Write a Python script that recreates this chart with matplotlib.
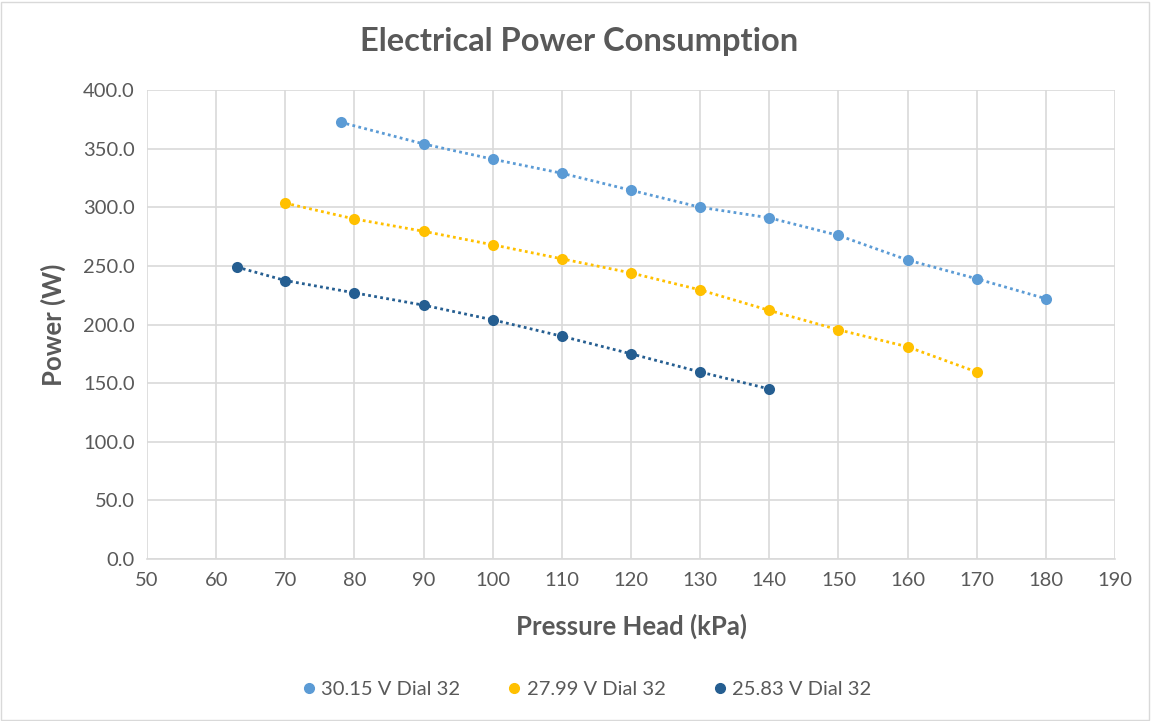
import matplotlib
matplotlib.use("Agg")
import matplotlib.pyplot as plt
from matplotlib.lines import Line2D
from matplotlib.patches import Rectangle

plt.rcParams['font.family'] = ['Lato', 'DejaVu Sans']

x_a = [78, 90, 100, 110, 120, 130, 140, 150, 160, 170, 180]
y_a = [372.5, 354, 341, 329, 314.5, 300, 291, 276, 255, 239, 222]
x_b = [70, 80, 90, 100, 110, 120, 130, 140, 150, 160, 170]
y_b = [303.5, 290, 279.5, 268, 256, 244, 229.5, 212, 195.5, 181, 159.5]
x_c = [63, 70, 80, 90, 100, 110, 120, 130, 140]
y_c = [249, 237.5, 227, 216.5, 204, 190, 175, 159.5, 145]
labels = ["30.15 V Dial 32", "27.99 V Dial 32", "25.83 V Dial 32"]
colors = ["#5B9BD5", "#FFC000", "#255E91"]

W, H = 1151, 721
fig = plt.figure(figsize=(W/100, H/100), dpi=100)
ax = fig.add_axes([147/W, 1-559/H, (1115-147)/W, (559-90)/H])

for xs, ys, c, lab in zip([x_a, x_b, x_c], [y_a, y_b, y_c], colors, labels):
    ax.plot(xs, ys, linestyle=(0, (1, 1.2)), color=c, linewidth=2.0,
            marker='o', markersize=8, markeredgewidth=0, label=lab, zorder=3)

ax.set_xlim(50, 190)
ax.set_ylim(0, 400)
ax.set_xticks(range(50, 191, 10))
ax.set_yticks(range(0, 401, 50))
ax.set_yticklabels([f"{v:.1f}" for v in range(0, 401, 50)])
ax.grid(True, color="#D9D9D9", linewidth=1.2)
ax.set_axisbelow(True)
for s in ['top', 'right', 'left']:
    ax.spines[s].set_visible(False)
ax.spines['bottom'].set_color("#D9D9D9")
ax.spines['bottom'].set_linewidth(1.2)
ax.tick_params(length=0, labelsize=14.5, labelcolor="#595959", pad=9)

ax.set_xlabel("Pressure Head (kPa)", fontsize=18.5, fontweight='bold', color="#595959", labelpad=18)
ax.set_ylabel("Power (W)", fontsize=18.5, fontweight='bold', color="#595959", labelpad=12)
fig.text(579/W, 1-42/H, "Electrical Power Consumption", ha='center', va='center',
         fontsize=23.5, fontweight='bold', color="#595959")

handles = [Line2D([], [], linestyle='none', marker='o', color=c, markersize=7) for c in colors]
fig.legend(handles, labels, loc='center', bbox_to_anchor=(585/W, 1-689/H), ncol=3,
           frameon=False, fontsize=14.5, labelcolor="#595959", handletextpad=0.1,
           columnspacing=2.2, handlelength=1.0)

fig.patches.append(Rectangle((1/W, 1/H), 1-3/W, 1-3/H, transform=fig.transFigure,
                             fill=False, edgecolor="#D9D9D9", linewidth=1))
fig.savefig("out.png", dpi=100)
